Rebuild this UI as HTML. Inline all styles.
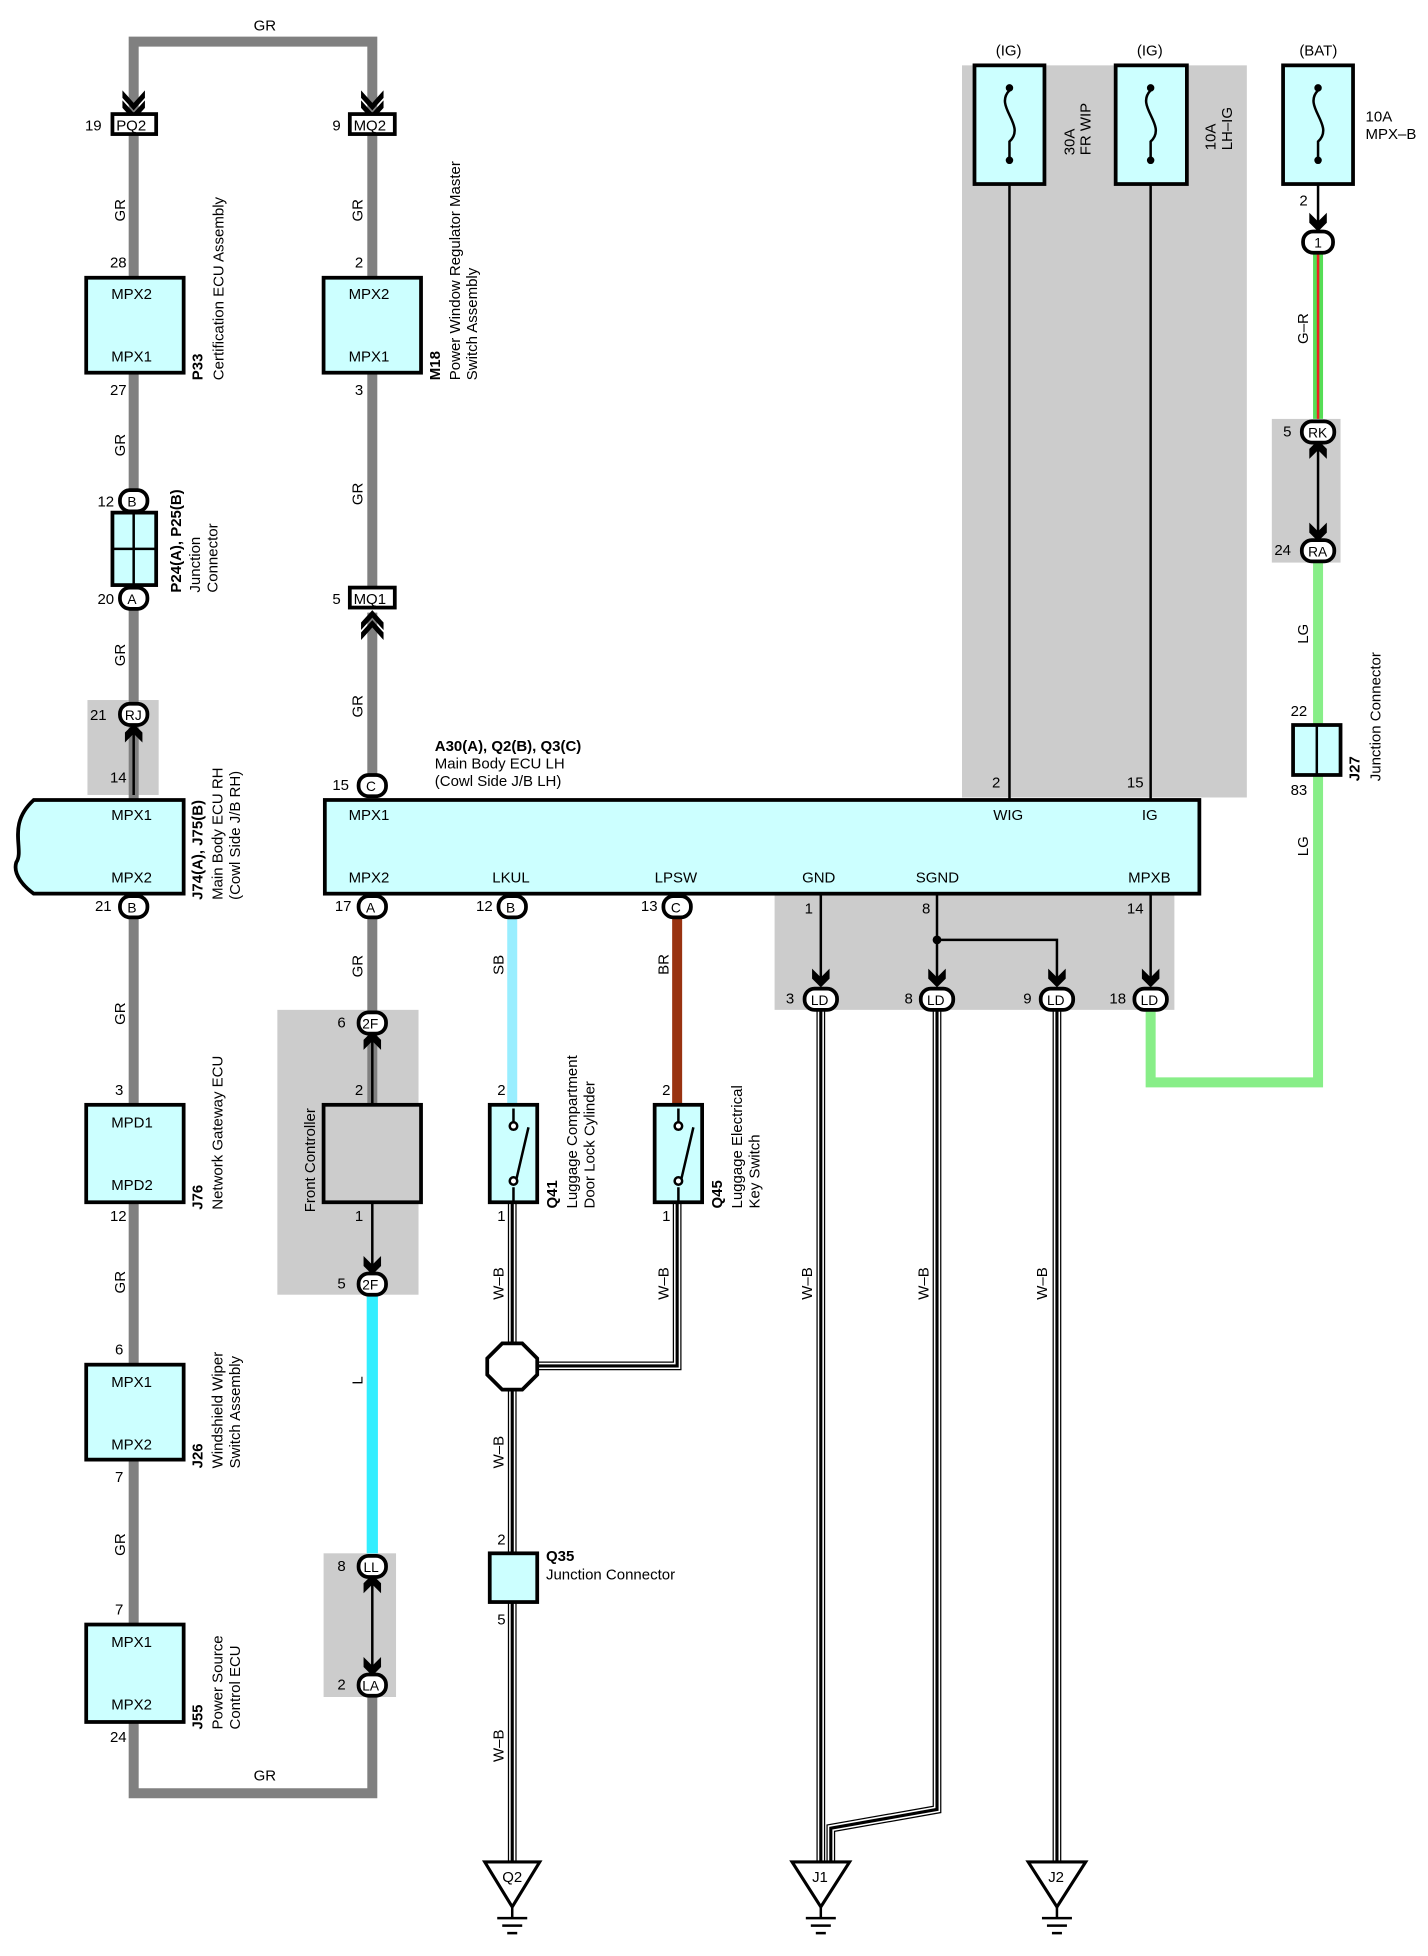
<!DOCTYPE html>
<html><head><meta charset="utf-8"><style>
html,body{margin:0;padding:0;background:#fff}
svg{display:block}
text{font-family:"Liberation Sans",sans-serif;font-size:12px;fill:#000}
.b{font-weight:bold}
</style></head><body>
<svg width="1428" height="1956" viewBox="0 0 1143 1565" xmlns="http://www.w3.org/2000/svg">
<defs>
<g id="wb"><!-- placeholder --></g>
</defs>
<!-- gray areas -->
<rect x="770" y="52" width="228" height="586" fill="#cccccc"/>
<rect x="620" y="715" width="320" height="93" fill="#cccccc"/>
<rect x="70" y="560" width="57" height="76" fill="#cccccc"/>
<rect x="222" y="808" width="113" height="228" fill="#cccccc"/>
<rect x="259" y="1243" width="58" height="115" fill="#cccccc"/>
<rect x="1018" y="335" width="55" height="115" fill="#cccccc"/>

<!-- GR loop -->
<g fill="none" stroke="#808080" stroke-width="8">
<path d="M107 92 V33 H298 V92"/>
<path d="M107 107 V222 M107 298 V410 M107 468 V640 M107 735 V884 M107 962 V1092 M107 1168 V1300 M107 1378 V1435 H298 V1358"/>
<path d="M298 107 V222 M298 298 V470 M298 490 V620 M298 735 V884"/>
</g>
<!-- L cyan -->
<path d="M298 1036 V1243" stroke="#33eeff" stroke-width="9"/>
<!-- SB, BR -->
<path d="M410 735 V884" stroke="#99eeff" stroke-width="8"/>
<path d="M542 735 V884" stroke="#993311" stroke-width="8"/>
<!-- LG green -->
<path d="M921 808 V866 H1055 V620 M1055 580 V450" fill="none" stroke="#88ee88" stroke-width="8"/>
<path d="M1055 203 V335" stroke="#55dd55" stroke-width="8"/>
<path d="M1055 203 V335" stroke="#ee2222" stroke-width="2"/>

<!-- W-B double lines -->
<g fill="none" stroke-linejoin="miter">
<g stroke="#000" stroke-width="7">
<path d="M410 962 V1490"/><path d="M542 962 V1093 H420"/>
<path d="M657 808 V1490"/><path d="M750 808 V1448 L665 1463 V1490"/><path d="M846 808 V1490"/>
</g>
<g stroke="#fff" stroke-width="5">
<path d="M410 962 V1490"/><path d="M542 962 V1093 H420"/>
<path d="M657 808 V1490"/><path d="M750 808 V1448 L665 1463 V1490"/><path d="M846 808 V1490"/>
</g>
<g stroke="#000" stroke-width="2.5">
<path d="M410 962 V1490"/><path d="M542 962 V1093 H420"/>
<path d="M657 808 V1490"/><path d="M750 808 V1448 L665 1463 V1490"/><path d="M846 808 V1490"/>
</g>
</g>

<!-- thin black wires -->
<g stroke="#000" stroke-width="2" fill="none">
<path d="M808 147 V640 M921 147 V640 M1055 147 V185"/>
<path d="M657 715 V785 M750 715 V785 M750 752 H846 V785 M921 715 V785"/>
<path d="M107 636 V583"/>
<path d="M1055 355 V430"/>
<path d="M298 828 V884 M298 962 V1015 M298 1263 V1338"/>
</g>
<circle cx="750" cy="752" r="3.5"/>

<!-- arrow heads (double chevrons) -->
<g fill="#000">
<path d="M98 72 L107 82 L116 72 V78 L107 88 L98 78Z M98 80 L107 90 L116 80 V86 L107 96 L98 86Z"/>
<path d="M289 72 L298 82 L307 72 V78 L298 88 L289 78Z M289 80 L298 90 L307 80 V86 L298 96 L289 86Z"/>
<path d="M289 498 L298 488 L307 498 V504 L298 494 L289 504Z M289 506 L298 496 L307 506 V512 L298 502 L289 512Z"/>
<path d="M650 775 L657 782 L664 775 V783 L657 790 L650 783Z"/>
<path d="M743 775 L750 782 L757 775 V783 L750 790 L743 783Z"/>
<path d="M839 775 L846 782 L853 775 V783 L846 790 L839 783Z"/>
<path d="M914 775 L921 782 L928 775 V783 L921 790 L914 783Z"/>
<path d="M1048 170 L1055 177 L1062 170 V178 L1055 185 L1048 178Z"/>
<path d="M100 594 L107 587 L114 594 V586 L107 579 L100 586Z"/>
<path d="M291 840 L298 833 L305 840 V832 L298 825 L291 832Z"/>
<path d="M291 1005 L298 1012 L305 1005 V1013 L298 1020 L291 1013Z"/>
<path d="M291 1275 L298 1268 L305 1275 V1267 L298 1260 L291 1267Z"/>
<path d="M291 1326 L298 1333 L305 1326 V1334 L298 1341 L291 1334Z"/>
<path d="M1048 367 L1055 360 L1062 367 V359 L1055 352 L1048 359Z"/>
<path d="M1048 418 L1055 425 L1062 418 V426 L1055 433 L1048 426Z"/>
</g>

<!-- connector boxes -->
<g fill="#fff" stroke="#000" stroke-width="3">
<rect x="90" y="91" width="35" height="16"/>
<rect x="280" y="91" width="36" height="16"/>
<rect x="280" y="470" width="36" height="16"/>
</g>
<text x="93" y="104">PQ2</text><text x="283" y="104">MQ2</text><text x="283" y="483">MQ1</text>
<text x="68" y="104">19</text><text x="266" y="104">9</text><text x="266" y="483">5</text>

<!-- oval connectors -->
<g fill="#fff" stroke="#000" stroke-width="3">
<rect x="96" y="563" width="22" height="17" rx="8"/>
<rect x="287" y="620" width="22" height="17" rx="8"/>
<rect x="96" y="717" width="22" height="17" rx="8"/>
<rect x="287" y="717" width="22" height="17" rx="8"/>
<rect x="399" y="717" width="22" height="17" rx="8"/>
<rect x="531" y="717" width="22" height="17" rx="8"/>
<rect x="287" y="810" width="22" height="17" rx="8"/>
<rect x="287" y="1019" width="22" height="17" rx="8"/>
<rect x="287" y="1245" width="22" height="17" rx="8"/>
<rect x="287" y="1340" width="22" height="17" rx="8"/>
<rect x="644" y="791" width="26" height="17" rx="8"/>
<rect x="737" y="791" width="26" height="17" rx="8"/>
<rect x="833" y="791" width="26" height="17" rx="8"/>
<rect x="908" y="791" width="26" height="17" rx="8"/>
<rect x="1043" y="185" width="24" height="17" rx="8"/>
<rect x="1042" y="337" width="26" height="17" rx="8"/>
<rect x="1042" y="432" width="26" height="17" rx="8"/>
<rect x="96" y="392" width="22" height="17" rx="8"/>
<rect x="96" y="470" width="22" height="17" rx="8"/>
</g>
<g font-size="11">
<text x="100" y="576" style="font-size:11px">RJ</text>
<text x="293" y="633" style="font-size:11px">C</text>
<text x="102" y="730" style="font-size:11px">B</text>
<text x="293" y="730" style="font-size:11px">A</text>
<text x="405" y="730" style="font-size:11px">B</text>
<text x="537" y="730" style="font-size:11px">C</text>
<text x="290" y="823" style="font-size:11px">2F</text>
<text x="290" y="1032" style="font-size:11px">2F</text>
<text x="291" y="1258" style="font-size:11px">LL</text>
<text x="290" y="1353" style="font-size:11px">LA</text>
<text x="649" y="804" style="font-size:11px">LD</text>
<text x="742" y="804" style="font-size:11px">LD</text>
<text x="838" y="804" style="font-size:11px">LD</text>
<text x="913" y="804" style="font-size:11px">LD</text>
<text x="1052" y="198" style="font-size:11px">1</text>
<text x="1047" y="350" style="font-size:11px">RK</text>
<text x="1047" y="445" style="font-size:11px">RA</text>
<text x="102" y="405" style="font-size:11px">B</text>
<text x="102" y="483" style="font-size:11px">A</text>
</g>
<!-- pin numbers -->
<text x="72" y="576">21</text><text x="266" y="632">15</text><text x="76" y="729">21</text><text x="268" y="729">17</text>
<text x="381" y="729">12</text><text x="513" y="729">13</text><text x="270" y="822">6</text><text x="270" y="1031">5</text>
<text x="270" y="1257">8</text><text x="270" y="1352">2</text><text x="629" y="803">3</text><text x="724" y="803">8</text>
<text x="819" y="803">9</text><text x="888" y="803">18</text><text x="1040" y="164">2</text><text x="1027" y="349">5</text>
<text x="1020" y="444">24</text><text x="78" y="405">12</text><text x="78" y="483">20</text>
<text x="88" y="214">28</text><text x="88" y="316">27</text><text x="284" y="214">2</text><text x="284" y="316">3</text>
<text x="88" y="626">14</text><text x="92" y="876">3</text><text x="88" y="977">12</text><text x="92" y="1084">6</text>
<text x="92" y="1186">7</text><text x="92" y="1292">7</text><text x="88" y="1394">24</text>
<text x="284" y="876">2</text><text x="284" y="977">1</text>
<text x="398" y="876">2</text><text x="398" y="977">1</text><text x="530" y="876">2</text><text x="530" y="977">1</text>
<text x="398" y="1236">2</text><text x="398" y="1300">5</text>
<text x="644" y="731">1</text><text x="738" y="731">8</text><text x="902" y="731">14</text>
<text x="794" y="630">2</text><text x="902" y="630">15</text>
<text x="1033" y="573">22</text><text x="1033" y="636">83</text>

<!-- P24 junction -->
<rect x="90" y="410" width="35" height="58" fill="#ccffff" stroke="#000" stroke-width="3"/>
<path d="M107 410 V468 M90 439 H125" stroke="#000" stroke-width="2"/>

<!-- component boxes -->
<g fill="#ccffff" stroke="#000" stroke-width="3">
<rect x="69" y="222" width="78" height="76"/>
<rect x="259" y="222" width="78" height="76"/>
<path d="M147 640 H27 C5 660 20 680 13 690 C10 700 20 710 27 715 H147 Z"/>
<rect x="260" y="640" width="700" height="75"/>
<rect x="69" y="884" width="78" height="78"/>
<rect x="69" y="1092" width="78" height="76"/>
<rect x="69" y="1300" width="78" height="78"/>
<rect x="392" y="884" width="38" height="78"/>
<rect x="524" y="884" width="38" height="78"/>
<rect x="392" y="1243" width="38" height="39"/>
<rect x="1035" y="580" width="38" height="40"/>
<rect x="780" y="52" width="56" height="95"/>
<rect x="893" y="52" width="57" height="95"/>
<rect x="1027" y="52" width="56" height="95"/>
</g>
<rect x="259" y="884" width="78" height="78" fill="#cccccc" stroke="#000" stroke-width="3"/>
<path d="M1054 580 V620" stroke="#000" stroke-width="2"/>
<!-- switches -->
<g stroke="#000" stroke-width="2" fill="#fff">
<path d="M411 887 V898 M411 950 V962 M413 945 L423 902"/>
<circle cx="411" cy="901" r="3"/><circle cx="411" cy="945" r="3"/>
<path d="M543 887 V898 M543 950 V962 M545 945 L555 902"/>
<circle cx="543" cy="901" r="3"/><circle cx="543" cy="945" r="3"/>
</g>
<!-- fuses -->
<g fill="none" stroke="#000" stroke-width="2">
<path d="M808 72 C795 85 822 100 808 113 V128"/><circle cx="808" cy="70" r="2" fill="#000"/><circle cx="808" cy="128" r="2" fill="#000"/>
<path d="M921 72 C908 85 935 100 921 113 V128"/><circle cx="921" cy="70" r="2" fill="#000"/><circle cx="921" cy="128" r="2" fill="#000"/>
<path d="M1055 72 C1042 85 1069 100 1055 113 V128"/><circle cx="1055" cy="70" r="2" fill="#000"/><circle cx="1055" cy="128" r="2" fill="#000"/>
</g>
<!-- octagon -->
<path d="M402 1075 H418 L430 1087 V1100 L418 1112 H402 L390 1100 V1087 Z" fill="#fff" stroke="#000" stroke-width="3"/>

<!-- grounds -->
<g fill="#fff" stroke="#000" stroke-width="2.5">
<path d="M388 1490 H432 L410 1526 Z"/>
<path d="M634 1490 H680 L657 1526 Z"/>
<path d="M823 1490 H869 L846 1526 Z"/>
</g>
<g stroke="#000" stroke-width="2">
<path d="M410 1526 V1535 M398 1535 H422 M402 1541 H418 M406 1547 H414"/>
<path d="M657 1526 V1535 M645 1535 H669 M649 1541 H665 M653 1547 H661"/>
<path d="M846 1526 V1535 M834 1535 H858 M838 1541 H854 M842 1547 H850"/>
</g>
<text x="402" y="1506">Q2</text><text x="650" y="1506">J1</text><text x="839" y="1506">J2</text>

<!-- box labels -->
<text x="89" y="239">MPX2</text><text x="89" y="289">MPX1</text>
<text x="279" y="239">MPX2</text><text x="279" y="289">MPX1</text>
<text x="89" y="656">MPX1</text><text x="89" y="706">MPX2</text>
<text x="279" y="656">MPX1</text><text x="279" y="706">MPX2</text>
<text x="795" y="656">WIG</text><text x="914" y="656">IG</text>
<text x="394" y="706">LKUL</text><text x="524" y="706">LPSW</text><text x="642" y="706">GND</text>
<text x="733" y="706">SGND</text><text x="903" y="706">MPXB</text>
<text x="89" y="902">MPD1</text><text x="89" y="952">MPD2</text>
<text x="89" y="1110">MPX1</text><text x="89" y="1160">MPX2</text>
<text x="89" y="1318">MPX1</text><text x="89" y="1368">MPX2</text>
<text x="797" y="44">(IG)</text><text x="910" y="44">(IG)</text><text x="1040" y="44">(BAT)</text>
<text x="1093" y="97">10A</text><text x="1093" y="111">MPX–B</text>
<text x="203" y="24">GR</text><text x="203" y="1425">GR</text>
<text x="348" y="601" class="b">A30(A), Q2(B), Q3(C)</text>
<text x="348" y="615">Main Body ECU LH</text>
<text x="348" y="629">(Cowl Side J/B LH)</text>
<text x="437" y="1249" class="b">Q35</text><text x="437" y="1264">Junction Connector</text>

<!-- rotated labels -->
<g>
<text transform="translate(100,177) rotate(-90)">GR</text>
<text transform="translate(100,365) rotate(-90)">GR</text>
<text transform="translate(100,533) rotate(-90)">GR</text>
<text transform="translate(100,820) rotate(-90)">GR</text>
<text transform="translate(100,1035) rotate(-90)">GR</text>
<text transform="translate(100,1245) rotate(-90)">GR</text>
<text transform="translate(290,177) rotate(-90)">GR</text>
<text transform="translate(290,404) rotate(-90)">GR</text>
<text transform="translate(290,574) rotate(-90)">GR</text>
<text transform="translate(290,782) rotate(-90)">GR</text>
<text transform="translate(290,1108) rotate(-90)">L</text>
<text transform="translate(403,780) rotate(-90)">SB</text>
<text transform="translate(535,780) rotate(-90)">BR</text>
<text transform="translate(403,1040) rotate(-90)">W–B</text>
<text transform="translate(535,1040) rotate(-90)">W–B</text>
<text transform="translate(403,1175) rotate(-90)">W–B</text>
<text transform="translate(403,1410) rotate(-90)">W–B</text>
<text transform="translate(650,1040) rotate(-90)">W–B</text>
<text transform="translate(743,1040) rotate(-90)">W–B</text>
<text transform="translate(838,1040) rotate(-90)">W–B</text>
<text transform="translate(1047,275) rotate(-90)">G–R</text>
<text transform="translate(1047,515) rotate(-90)">LG</text>
<text transform="translate(1047,685) rotate(-90)">LG</text>
<text transform="translate(252,970) rotate(-90)">Front Controller</text>
<text transform="translate(860,124) rotate(-90)">30A</text><text transform="translate(873,124) rotate(-90)">FR WIP</text>
<text transform="translate(973,120) rotate(-90)">10A</text><text transform="translate(986,120) rotate(-90)">LH–IG</text>
<text class="b" transform="translate(162,304) rotate(-90)">P33</text>
<text transform="translate(179,304) rotate(-90)">Certification ECU Assembly</text>
<text class="b" transform="translate(352,304) rotate(-90)">M18</text>
<text transform="translate(368,304) rotate(-90)">Power Window Regulator Master</text>
<text transform="translate(382,304) rotate(-90)">Switch Assembly</text>
<text class="b" transform="translate(145,474) rotate(-90)">P24(A), P25(B)</text>
<text transform="translate(160,474) rotate(-90)">Junction</text>
<text transform="translate(174,474) rotate(-90)">Connector</text>
<text class="b" transform="translate(162,720) rotate(-90)">J74(A), J75(B)</text>
<text transform="translate(178,720) rotate(-90)">Main Body ECU RH</text>
<text transform="translate(192,720) rotate(-90)">(Cowl Side J/B RH)</text>
<text class="b" transform="translate(162,968) rotate(-90)">J76</text>
<text transform="translate(178,968) rotate(-90)">Network Gateway ECU</text>
<text class="b" transform="translate(162,1175) rotate(-90)">J26</text>
<text transform="translate(178,1175) rotate(-90)">Windshield Wiper</text>
<text transform="translate(192,1175) rotate(-90)">Switch Assembly</text>
<text class="b" transform="translate(162,1384) rotate(-90)">J55</text>
<text transform="translate(178,1384) rotate(-90)">Power Source</text>
<text transform="translate(192,1384) rotate(-90)">Control ECU</text>
<text class="b" transform="translate(446,967) rotate(-90)">Q41</text>
<text transform="translate(462,967) rotate(-90)">Luggage Compartment</text>
<text transform="translate(476,967) rotate(-90)">Door Lock Cylinder</text>
<text class="b" transform="translate(578,967) rotate(-90)">Q45</text>
<text transform="translate(594,967) rotate(-90)">Luggage Electrical</text>
<text transform="translate(608,967) rotate(-90)">Key Switch</text>
<text class="b" transform="translate(1088,625) rotate(-90)">J27</text>
<text transform="translate(1105,625) rotate(-90)">Junction Connector</text>
</g>
</svg>
</body></html>
